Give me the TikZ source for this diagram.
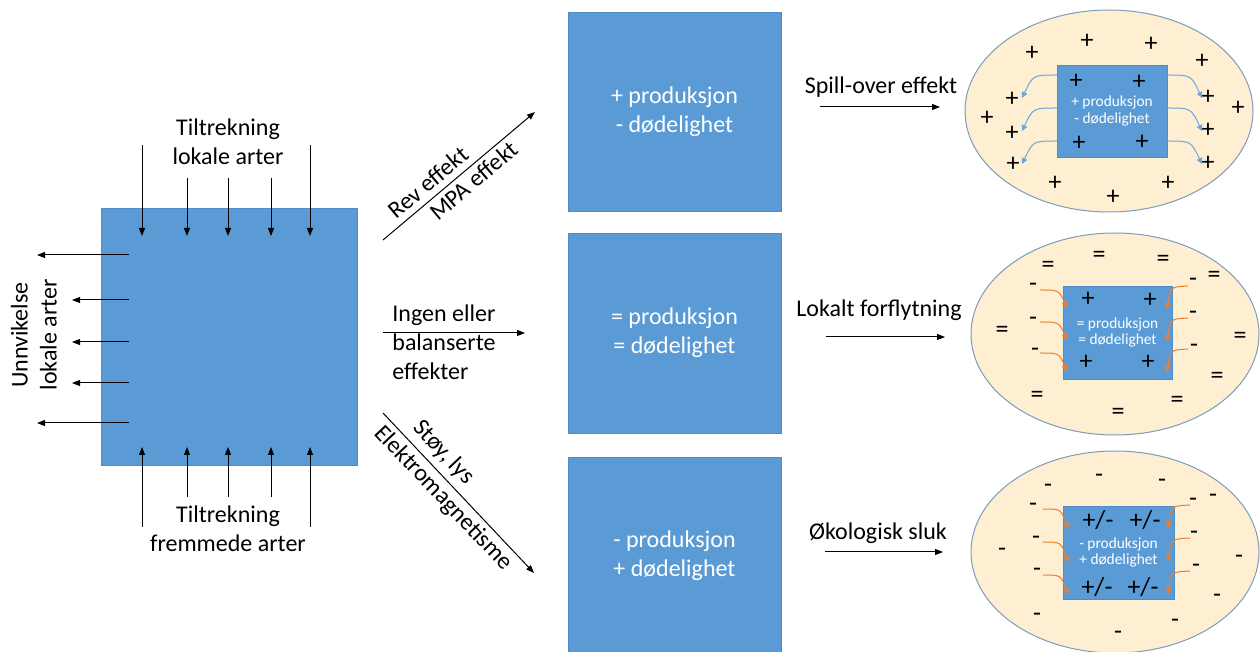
\documentclass[tikz,border=0pt]{standalone}
\usepackage{fontspec}
\setmainfont{Carlito}
\usetikzlibrary{arrows.meta,shapes.geometric}
\definecolor{boxblue}{HTML}{5B9BD5}
\definecolor{boxedge}{HTML}{4F8CC6}
\definecolor{sand}{HTML}{FEEFD2}
\definecolor{rimblue}{HTML}{7E9CB8}
\definecolor{spillblue}{HTML}{6AA8DE}
\definecolor{flowor}{HTML}{ED7D31}

\begin{document}
\begin{tikzpicture}
    [
        x=0.5pt,y=-0.5pt,
        every node/.style={font=\fontsize{12}{14.5}\selectfont,inner sep=0pt},
        arr/.style={-{Triangle[length=4pt,width=3pt]},line width=0.5pt},
        bluebox/.style={draw=boxedge,fill=boxblue,text=white,align=center,line width=0.4pt},
        corebox/.style={bluebox,font=\fontsize{7.7}{8.4}\selectfont},
        area/.style={ellipse,draw=rimblue,fill=sand,line width=0.5pt,
            minimum width=144pt,minimum height=101pt},
        sign/.style={font=\fontsize{13}{13}\selectfont},
        spill/.style={-{Triangle[length=3pt,width=3pt]},spillblue,line width=0.5pt},
        flow/.style={-{Triangle[length=3pt,width=3pt]},flowor,line width=0.5pt},
    ]
    \useasboundingbox (0,0) rectangle (1260,652);
    % The habitat
    \node[bluebox,minimum width=128pt,minimum height=128.5pt] (habitat) at (229,336.5) {};
    \node[align=center] (attrlocal) at (228,142) {Tiltrekning\\lokale arter};
    \node[align=center] (attrforeign) at (228,529) {Tiltrekning\\fremmede arter};
    \node[align=center,rotate=90] (avoid) at (34,335) {Unnvikelse\\lokale arter};
    \foreach \x/\t in {142/145,187/178,228/178,271/178,310/145}{
        \coordinate (top\x) at (\x,\t);
        \coordinate (topin\x) at (\x,236);
        \draw[arr] (top\x) -- (topin\x);
    }
    \foreach \x/\b in {142/527,187/497,228/497,271/497,310/527}{
        \coordinate (bot\x) at (\x,\b);
        \coordinate (botin\x) at (\x,447);
        \draw[arr] (bot\x) -- (botin\x);
    }
    \foreach \y/\e in {255/37,300/72,342/72,383/72,423/37}{
        \coordinate (left\y) at (129,\y);
        \coordinate (out\y) at (\e,\y);
        \draw[arr] (left\y) -- (out\y);
    }
    % The three outcomes
    \node[bluebox,minimum width=106.5pt,minimum height=99.5pt] (gain) at (674.5,111.5)
    {+ produksjon\\- dødelighet};
    \node[bluebox,minimum width=106.5pt,minimum height=100pt] (even) at (674.5,333)
    {= produksjon\\= dødelighet};
    \node[bluebox,minimum width=106.5pt,minimum height=99pt] (loss) at (674.5,556)
    {- produksjon\\+ dødelighet};

    \coordinate (upstart) at (383,240);
    \coordinate (upend) at (535,112);
    \draw[arr] (upstart) -- (upend)
    node[sloped,above=3pt,pos=0.36] (rev) {Rev effekt}
    node[sloped,below=2pt,pos=0.54] (mpa) {MPA effekt};

    \coordinate (midstart) at (383,333);
    \coordinate (midend) at (525,333);
    \draw[arr] (midstart) -- (midend);
    \node[align=left,anchor=west] (none) at (392,342) {Ingen eller\\balanserte\\effekter};

    \coordinate (downstart) at (383,413);
    \coordinate (downend) at (534,573);
    \draw[arr] (downstart) -- (downend)
    node[sloped,above=3pt,pos=0.32] (noise) {Støy, lys}
    node[sloped,below=2pt,pos=0.47] (emf) {Elektromagnetisme};

    % Effects around the areas
    \node (spilltxt) at (881,87) {Spill-over effekt};
    \coordinate (spillfrom) at (820,107);
    \coordinate (spillto) at (940,107);
    \draw[arr] (spillfrom) -- (spillto);

    \node (movetxt) at (879,310) {Lokalt forflytning};
    \coordinate (movefrom) at (826,337);
    \coordinate (moveto) at (945,337);
    \draw[arr] (movefrom) -- (moveto);

    \node (sinktxt) at (878,533) {Økologisk sluk};
    \coordinate (sinkfrom) at (825,552);
    \coordinate (sinkto) at (943,552);
    \draw[arr] (sinkfrom) -- (sinkto);

    % Spill-over area
    \node[area] (spillarea) at (1109,111) {};
    \node[corebox,minimum width=55pt,minimum height=46pt] (spillcore) at (1112,111)
    {+ produksjon\\- dødelighet};
    \foreach \x/\y [count=\i] in {1032/53,1087/41,1151/44,1202/61,1012/99,987/118,1012/133,
        1013/164,1055/183,1113/197,1168/183,1208/97,1238/108,1208/130,1208/163,
        1076/81,1139/82,1079/143,1142/142}
    \node[sign] (plus\i) at (\x,\y) {+};
    \foreach \y [count=\i] in {75,108,141}{
        \coordinate (sl\i) at (1057,\y);
        \coordinate (tl\i) at (1022,\y+23);
        \draw[spill] (sl\i) .. controls (1033,\y) .. (tl\i);
        \coordinate (sr\i) at (1167,\y);
        \coordinate (tr\i) at (1202,\y+23);
        \draw[spill] (sr\i) .. controls (1191,\y) .. (tr\i);
    }

    % Local movement area
    \node[area] (movearea) at (1115,334) {};
    \node[corebox,minimum width=54.5pt,minimum height=46.5pt] (movecore) at (1117.5,332.5)
    {= produksjon\\= dødelighet};
    \foreach \x/\y [count=\i] in {1048/267,1099/257,1163/261,1214/277,1002/332,1240/338,
        1217/378,1037/397,1118/414,1177/402}
    \node[sign] (eq\i) at (\x,\y) {=};
    \foreach \x/\y [count=\i] in {1033/287,1033/321,1035/352,1193/282,1193/315,1194/348}
    \node[sign] (mm\i) at (\x,\y) {-};
    \foreach \x/\y [count=\i] in {1088/299,1150/300,1086/362,1148/362}
    \node[sign] (mp\i) at (\x,\y) {+};
    \foreach \y [count=\i] in {290,322,353}{
        \coordinate (ml\i) at (1040,\y);
        \coordinate (mlt\i) at (1067,\y+18);
        \draw[flow] (ml\i) .. controls (1059,\y) .. (mlt\i);
        \coordinate (mr\i) at (1188,\y-4);
        \coordinate (mrt\i) at (1167,\y+19);
        \draw[flow] (mr\i) .. controls (1170,\y-3) .. (mrt\i);
    }

    % Ecological sink area
    \node[area] (sinkarea) at (1115,552) {};
    \node[corebox,minimum width=55.5pt,minimum height=46.5pt] (sinkcore) at (1118.5,552.5)
    {- produksjon\\+ dødelighet};
    \foreach \x/\y [count=\i] in {1099/478,1048/488,1162/483,1033/507,1193/502,1213/498,
        1036/540,1002/552,1194/535,1196/568,1239/559,1037/572,1217/598,1037/617,
        1175/623,1118/635}
    \node[sign] (sm\i) at (\x,\y) {-};
    \foreach \x/\y [count=\i] in {1098/520,1145/520,1097/587,1143/587}
    \node[font=\fontsize{13}{13}\selectfont] (pm\i) at (\x,\y) {+/-};
    \foreach \y [count=\i] in {509,542,575}{
        \coordinate (kl\i) at (1043,\y);
        \coordinate (klt\i) at (1068,\y+20);
        \draw[flow] (kl\i) .. controls (1061,\y) .. (klt\i);
        \coordinate (kr\i) at (1190,\y-4);
        \coordinate (krt\i) at (1168,\y+19);
        \draw[flow] (kr\i) .. controls (1171,\y-3) .. (krt\i);
    }
\end{tikzpicture}
\end{document}
